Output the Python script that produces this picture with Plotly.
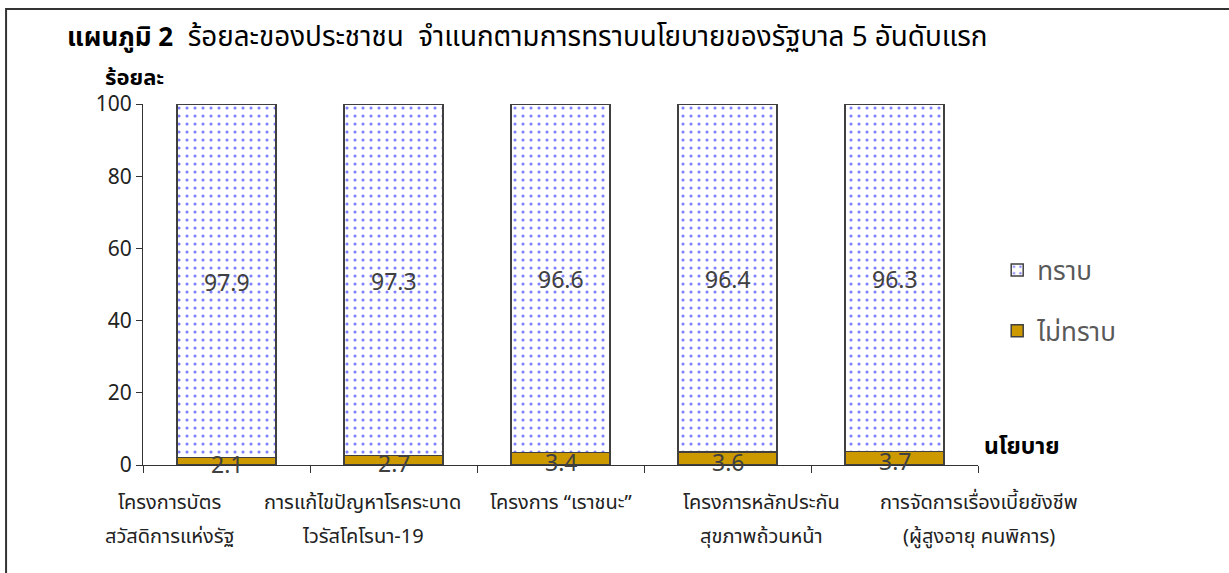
import plotly.graph_objects as go

# ---- data ----
categories = [
    "โครงการบัตร\nสวัสดิการแห่งรัฐ",
    "การแก้ไขปัญหาโรคระบาด\nไวรัสโคโรนา-19",
    "โครงการ “เราชนะ”\n",
    "โครงการหลักประกัน\nสุขภาพถ้วนหน้า",
    "การจัดการเรื่องเบี้ยยังชีพ\n(ผู้สูงอายุ คนพิการ)",
]
known = [97.9, 97.3, 96.6, 96.4, 96.3]
unknown = [2.1, 2.7, 3.4, 3.6, 3.7]
series_names = ["ทราบ", "ไม่ทราบ"]
yticks = [0, 20, 40, 60, 80, 100]

title_bold = "แผนภูมิ 2"
title_rest = "  ร้อยละของประชาชน  จำแนกตามการทราบนโยบายของรัฐบาล 5 อันดับแรก"
y_title = "ร้อยละ"
x_title = "นโยบาย"

# layout-only: horizontal nudges (px) of the category label blocks
label_xshift = [-57, -31, 0, 34, 84]

FONT = "Tahoma, 'Noto Sans Thai', 'Noto Sans', sans-serif"
GOLD = "#CC9900"
EDGE = "#404040"
LABEL = "#404040"

fig = go.Figure()

fig.add_trace(go.Bar(
    x=categories, y=unknown, name=series_names[1],
    marker=dict(color=GOLD, line=dict(color=EDGE, width=1.5)),
    legendgroup="b", legendrank=2, hoverinfo="skip",
))
fig.add_trace(go.Bar(
    x=categories, y=known, name=series_names[0],
    marker=dict(color="white", line=dict(color=EDGE, width=1.5),
                pattern=dict(shape=".", fgcolor="#0000FF", bgcolor="white",
                             size=8, solidity=0.12)),
    legendgroup="a", legendrank=1, hoverinfo="skip",
))

annotations = []
# data labels, centred on each segment
for c, u, k in zip(categories, unknown, known):
    annotations.append(dict(x=c, xref="x", y=u / 2, yref="y", text=f"{u:.1f}",
                            showarrow=False, yanchor="middle", yshift=-5,
                            font=dict(family=FONT, size=23, color=LABEL)))
    annotations.append(dict(x=c, xref="x", y=u + k / 2, yref="y", text=f"{k:.1f}",
                            showarrow=False, yanchor="middle", yshift=-3,
                            font=dict(family=FONT, size=23, color=LABEL)))

# category labels, two lines each
for c, dx in zip(categories, label_xshift):
    l1, l2 = c.split("\n")
    annotations.append(dict(x=c, xref="x", y=-0.105, yref="paper", text=l1,
                            showarrow=False, yanchor="middle", xshift=dx,
                            font=dict(family=FONT, size=20, color="#222")))
    if l2:
        annotations.append(dict(x=c, xref="x", y=-0.199, yref="paper", text=l2,
                                showarrow=False, yanchor="middle", xshift=dx,
                                font=dict(family=FONT, size=20, color="#222")))

annotations.append(dict(x=-0.0934, xref="paper", y=1.183, yref="paper",
                        xanchor="left", yanchor="middle", showarrow=False,
                        text=(f"<b>{title_bold}</b>"
                              f"<span style='font-size:27.8px'>{title_rest}</span>"),
                        font=dict(family=FONT, size=26, color="black")))
annotations.append(dict(x=-0.0096, xref="paper", y=1.07, yref="paper",
                        xanchor="center", yanchor="middle", showarrow=False,
                        text=f"<b>{y_title}</b>",
                        font=dict(family=FONT, size=22, color="black")))
annotations.append(dict(x=1.0048, xref="paper", y=0.05, yref="paper",
                        xanchor="left", yanchor="middle", showarrow=False,
                        text=f"<b>{x_title}</b>",
                        font=dict(family=FONT, size=23, color="black")))

fig.update_layout(
    width=1229, height=573,
    margin=dict(l=143, r=251, t=104, b=108),
    paper_bgcolor="white", plot_bgcolor="white",
    barmode="stack", bargap=0.41,
    font=dict(family=FONT, color="#222"),
    showlegend=True,
    legend=dict(x=1.023, y=0.605, xanchor="left", yanchor="top",
                traceorder="grouped", tracegroupgap=24,
                font=dict(family=FONT, size=26, color="#595959"),
                bgcolor="rgba(0,0,0,0)", itemwidth=30),
    annotations=annotations,
    shapes=[dict(type="rect", xref="paper", yref="paper",
                 x0=-0.164, x1=1.31, y0=-0.33, y1=1.263,
                 line=dict(color="#333", width=2), fillcolor="rgba(0,0,0,0)",
                 layer="below")],
)
fig.update_xaxes(
    type="category", range=[-0.5, len(categories) - 0.5],
    showline=True, linecolor="#333", linewidth=1,
    ticks="outside", tickson="boundaries", ticklen=7, tickcolor="#333",
    showticklabels=False, showgrid=False, zeroline=False, fixedrange=True,
)
fig.update_yaxes(
    range=[0, 100], tickvals=yticks,
    showline=True, linecolor="#333", linewidth=1,
    ticks="outside", ticklen=6, tickcolor="#333",
    tickfont=dict(family=FONT, size=21, color="#222"),
    showgrid=False, zeroline=False, fixedrange=True,
)

fig.write_html("out.html", config={"displayModeBar": False},
               post_script="document.body.style.margin='0';document.body.style.overflow='hidden';")
